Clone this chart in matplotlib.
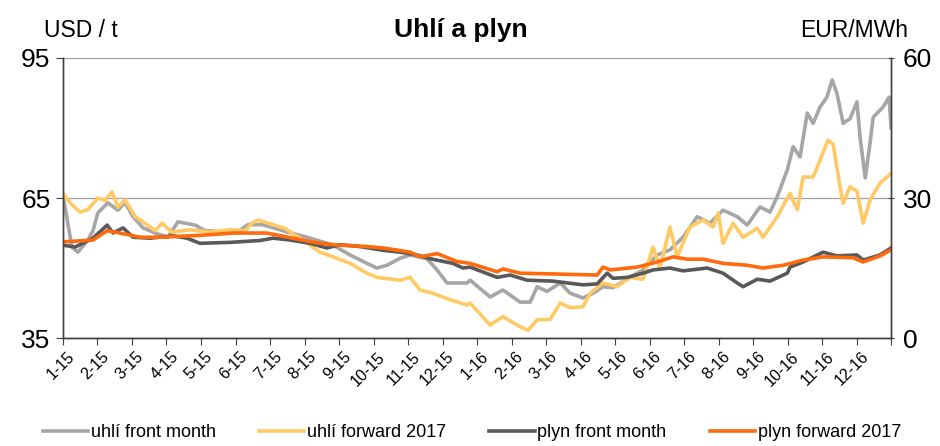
import matplotlib
matplotlib.use("Agg")
import matplotlib.pyplot as plt
import numpy as np

plt.rcParams['font.family'] = ['Liberation Sans', 'DejaVu Sans']

# time in months since 1 Jan 2015
month_labels = ["1-15", "2-15", "3-15", "4-15", "5-15", "6-15", "7-15", "8-15", "9-15", "10-15", "11-15", "12-15",
                "1-16", "2-16", "3-16", "4-16", "5-16", "6-16", "7-16", "8-16", "9-16", "10-16", "11-16", "12-16"]

coal_fm_t = [0.00, 0.06, 0.26, 0.43, 0.72, 0.87, 1.01, 1.30, 1.59, 1.80, 2.03, 2.32, 2.67, 3.04, 3.33, 3.83, 4.12,
             4.61, 5.07, 5.36, 5.77, 6.06, 6.38, 7.07, 7.83, 8.32, 8.81, 9.10, 9.39, 9.77, 10.06, 10.55, 10.84,
             11.13, 11.71, 11.80, 12.38, 12.75, 13.25, 13.54, 13.74, 14.03, 14.41, 14.70, 15.07, 15.36, 15.65,
             15.94, 16.43, 16.81, 17.22, 17.59, 17.97, 18.38, 18.75, 19.13, 19.54, 19.83, 20.20, 20.49, 20.70,
             20.99, 21.16, 21.36, 21.57, 21.74, 21.94, 22.14, 22.29, 22.43, 22.61, 22.81, 23.01, 23.10, 23.25,
             23.39, 23.48, 23.77, 23.94, 24.00]
coal_fm = [65.5, 63.0, 54.5, 53.4, 56.0, 58.0, 61.8, 64.0, 62.4, 64.0, 61.0, 58.6, 57.5, 56.6, 59.9, 59.2, 58.0,
           57.8, 57.8, 59.3, 59.3, 58.7, 58.0, 56.6, 54.9, 52.8, 51.0, 50.0, 50.6, 52.1, 52.8, 52.0, 49.6,
           46.8, 46.8, 47.4, 43.8, 45.3, 42.7, 42.7, 46.0, 45.0, 46.8, 44.6, 43.6, 44.6, 46.0,
           45.8, 48.0, 49.6, 52.8, 53.9, 56.6, 61.0, 59.6, 62.4, 61.0, 59.2, 63.1, 62.0, 65.3,
           71.0, 76.0, 73.8, 83.2, 81.0, 84.5, 86.6, 90.3, 87.4, 81.0, 82.0, 85.6, 78.0, 69.3,
           76.8, 82.3, 84.5, 86.6, 80.0]

coal_fw_t = [0.00, 0.20, 0.49, 0.72, 1.01, 1.22, 1.42, 1.59, 1.80, 2.09, 2.38, 2.67, 2.87, 3.16, 3.68, 4.26, 4.84,
             5.28, 5.48, 5.65, 6.00, 6.43, 6.87, 7.45, 7.83, 8.32, 8.81, 9.10, 9.77, 10.06, 10.35, 10.72, 11.22,
             11.71, 11.80, 12.38, 12.75, 13.25, 13.48, 13.74, 14.12, 14.41, 14.70, 15.07, 15.28, 15.65, 16.06,
             16.43, 16.81, 17.10, 17.30, 17.59, 17.80, 18.17, 18.55, 18.84, 18.99, 19.13, 19.42, 19.71, 20.12,
             20.29, 20.70, 21.07, 21.28, 21.45, 21.74, 21.94, 22.17, 22.32, 22.52, 22.61, 22.81, 23.01, 23.19,
             23.39, 23.68, 24.00]
coal_fw = [66.0, 64.0, 62.0, 62.5, 65.0, 64.5, 66.3, 63.0, 64.6, 61.0, 59.6, 58.0, 59.6, 57.7, 58.2, 57.7, 58.2,
           58.0, 59.6, 60.3, 59.5, 58.5, 56.4, 53.4, 52.4, 51.0, 48.9, 48.0, 47.4, 48.0, 45.3, 44.6, 43.2,
           42.1, 42.5, 37.8, 39.6, 37.4, 36.7, 38.9, 39.0, 42.5, 41.5, 41.7, 44.6, 46.8, 46.0,
           48.0, 47.6, 54.5, 50.0, 58.8, 52.4, 58.8, 60.3, 58.8, 61.8, 55.3, 59.6, 56.6, 58.5,
           56.6, 61.0, 66.0, 62.5, 69.5, 69.5, 73.1, 77.4, 76.5, 67.4, 63.9, 67.4, 66.5, 59.6,
           64.6, 68.2, 70.3]

gas_fm_t = [0.00, 0.35, 0.87, 1.28, 1.45, 1.74, 2.03, 2.52, 3.19, 3.59, 3.97, 4.84, 5.71, 6.09, 6.58, 7.16, 7.65,
            8.03, 8.61, 9.28, 9.77, 10.26, 10.64, 11.30, 11.59, 11.80, 12.58, 12.96, 13.45, 14.20, 15.07, 15.48,
            15.77, 15.94, 16.35, 16.81, 17.10, 17.59, 17.97, 18.67, 19.13, 19.54, 19.71, 20.12, 20.49, 20.99,
            21.07, 21.45, 22.03, 22.43, 23.01, 23.19, 23.68, 24.00]
gas_fm = [19.9, 19.5, 21.4, 24.2, 22.5, 23.6, 21.6, 21.4, 21.9, 21.4, 20.3, 20.5, 20.9, 21.4, 21.0, 20.3, 19.3,
          20.0, 19.6, 18.8, 18.4, 17.8, 17.0, 16.0, 15.0, 15.2, 13.0, 13.5, 12.4, 12.2, 11.4, 11.6,
          13.9, 12.8, 13.0, 13.9, 14.6, 15.0, 14.4, 15.0, 13.9, 11.8, 11.0, 12.6, 12.2, 13.9,
          15.2, 16.3, 18.4, 17.6, 17.8, 16.7, 17.8, 19.3]

gas_fw_t = [0.00, 0.87, 1.28, 1.65, 2.23, 2.81, 3.97, 4.93, 5.91, 6.67, 7.36, 7.83, 8.81, 9.28, 10.06, 10.35,
            10.84, 11.42, 11.80, 12.58, 12.75, 13.25, 14.41, 15.48, 15.65, 15.86, 16.64, 17.22, 17.68, 18.09,
            18.55, 19.13, 19.83, 20.29, 20.87, 21.45, 22.03, 22.90, 23.19, 23.68, 24.00]
gas_fw = [20.6, 21.0, 23.0, 22.5, 21.6, 21.6, 22.0, 22.5, 22.5, 21.4, 20.4, 20.0, 19.6, 19.3, 18.4, 17.4,
          18.1, 16.4, 16.0, 14.2, 14.8, 13.9, 13.7, 13.5, 15.2, 14.6, 15.2, 16.3, 17.4, 16.9,
          16.9, 16.0, 15.6, 15.0, 15.6, 16.7, 17.4, 17.2, 16.3, 17.6, 18.9]

series_names = ["uhlí front month", "uhlí forward 2017", "plyn front month", "plyn forward 2017"]
colors = ["#A6A6A6", "#FFCA65", "#595959", "#FF6A0D"]

fig = plt.figure(figsize=(9.4, 4.46), dpi=100)
ax = fig.add_axes([0.067, 0.242, 0.881, 0.628])
ax2 = ax.twinx()

lw = 2.6
l1, = ax.plot(coal_fm_t, coal_fm, color=colors[0], lw=lw, label=series_names[0])
l2, = ax.plot(coal_fw_t, coal_fw, color=colors[1], lw=lw, label=series_names[1])
l3, = ax2.plot(gas_fm_t, gas_fm, color=colors[2], lw=lw, label=series_names[2])
l4, = ax2.plot(gas_fw_t, gas_fw, color=colors[3], lw=lw, label=series_names[3])

ax.set_xlim(0, 24)
ax.set_ylim(35, 95)
ax2.set_ylim(0, 60)
ax.set_yticks([35, 65, 95])
ax2.set_yticks([0, 30, 60])
ax.set_xticks(np.arange(0, 25))
ax.set_xticklabels(month_labels + [""], rotation=45, ha='right', rotation_mode='anchor', fontsize=11.5)
ax.tick_params(axis='x', length=5, color='#404040', pad=3)
for lab in ax.get_xticklabels():
    lab.set_transform(lab.get_transform() + matplotlib.transforms.ScaledTranslation(4 / 100, 0, fig.dpi_scale_trans))
ax.tick_params(axis='y', length=5, labelsize=19, color='#404040', direction='out', pad=4)
ax2.tick_params(axis='y', length=5, labelsize=19, color='#404040', direction='inout', pad=6)

ax.grid(axis='y', color='#A0A0A0', lw=0.9)
ax.set_axisbelow(True)
for a in (ax, ax2):
    a.spines['top'].set_visible(False)
    for s in ('left', 'right', 'bottom'):
        a.spines[s].set_color('#404040')
        a.spines[s].set_linewidth(1.0)

fig.text(0.49, 0.932, "Uhlí a plyn", ha='center', va='center', fontsize=19, fontweight='bold')
fig.text(0.047, 0.932, "USD / t", ha='left', va='center', fontsize=16.5)
fig.text(0.966, 0.932, "EUR/MWh", ha='right', va='center', fontsize=16.5)

fig.legend(handles=[l1, l2, l3, l4], loc='center', bbox_to_anchor=(0.502, 0.03), ncol=4, frameon=False,
           fontsize=13, handlelength=2.5, handletextpad=0.15, columnspacing=2.4)

fig.savefig("out.png", dpi=100)
